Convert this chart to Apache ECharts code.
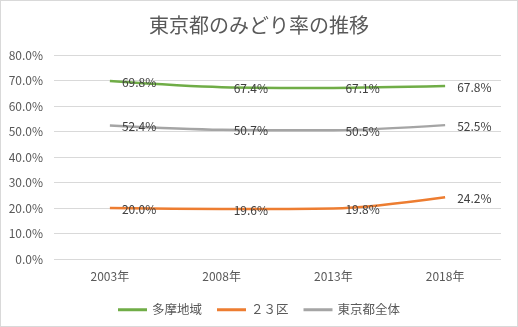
<!DOCTYPE html>
<html>
<head>
<meta charset="utf-8">
<script src="https://cdn.jsdelivr.net/npm/echarts@6/dist/echarts.min.js"></script>
<style>
  html, body { margin: 0; padding: 0; background: #fff; }
  #chart { width: 518px; height: 327px; box-sizing: border-box; border: 1px solid #d9d9d9; }
</style>
</head>
<body>
<div id="chart"></div>
<script>
// 東京都のみどり率（%）
const years = ['2003年', '2008年', '2013年', '2018年'];
const tama = [69.8, 67.4, 67.1, 67.8];
const ku23 = [20.0, 19.6, 19.8, 24.2];
const tokyoAll = [52.4, 50.7, 50.5, 52.5];

const FONT = '"Noto Sans CJK JP", "Noto Sans", sans-serif';

function lineSeries(name, data, color) {
  return {
    name: name,
    type: 'line',
    data: data,
    smooth: 0.3,
    symbol: 'circle',
    symbolSize: 0,
    showSymbol: true,
    lineStyle: { color: color, width: 2.5 },
    itemStyle: { color: color },
    label: {
      show: true,
      position: 'right',
      distance: 12,
      offset: [0, 1],
      formatter: p => p.value.toFixed(1) + '%',
      color: '#404040',
      fontSize: 12,
      fontFamily: FONT
    }
  };
}

const chart = echarts.init(document.getElementById('chart'), null, { renderer: 'canvas' });
chart.setOption({
  animation: false,
  title: {
    text: '東京都のみどり率の推移',
    left: 'center',
    top: 9,
    textStyle: { color: '#595959', fontSize: 20, fontWeight: 'normal', fontFamily: FONT }
  },
  legend: {
    bottom: 5,
    itemWidth: 29,
    itemHeight: 3,
    itemGap: 15,
    icon: 'rect',
    textStyle: { color: '#595959', fontSize: 12.5, fontFamily: FONT },
    data: ['多摩地域', '２３区', '東京都全体']
  },
  grid: { left: 53, right: 16, top: 54, bottom: 67 },
  xAxis: {
    type: 'category',
    data: years,
    boundaryGap: true,
    axisLine: { show: false },
    axisTick: { show: false },
    axisLabel: { color: '#595959', fontSize: 12, fontFamily: FONT, margin: 11 }
  },
  yAxis: {
    type: 'value',
    min: 0,
    max: 80,
    interval: 10,
    axisLine: { show: false },
    axisTick: { show: false },
    splitLine: { lineStyle: { color: '#d9d9d9', width: 1 } },
    axisLabel: {
      color: '#595959', fontSize: 12, fontFamily: FONT, margin: 11,
      formatter: v => v.toFixed(1) + '%'
    }
  },
  series: [
    lineSeries('多摩地域', tama, '#70ad47'),
    lineSeries('２３区', ku23, '#ed7d31'),
    lineSeries('東京都全体', tokyoAll, '#a5a5a5')
  ]
});
</script>
</body>
</html>
